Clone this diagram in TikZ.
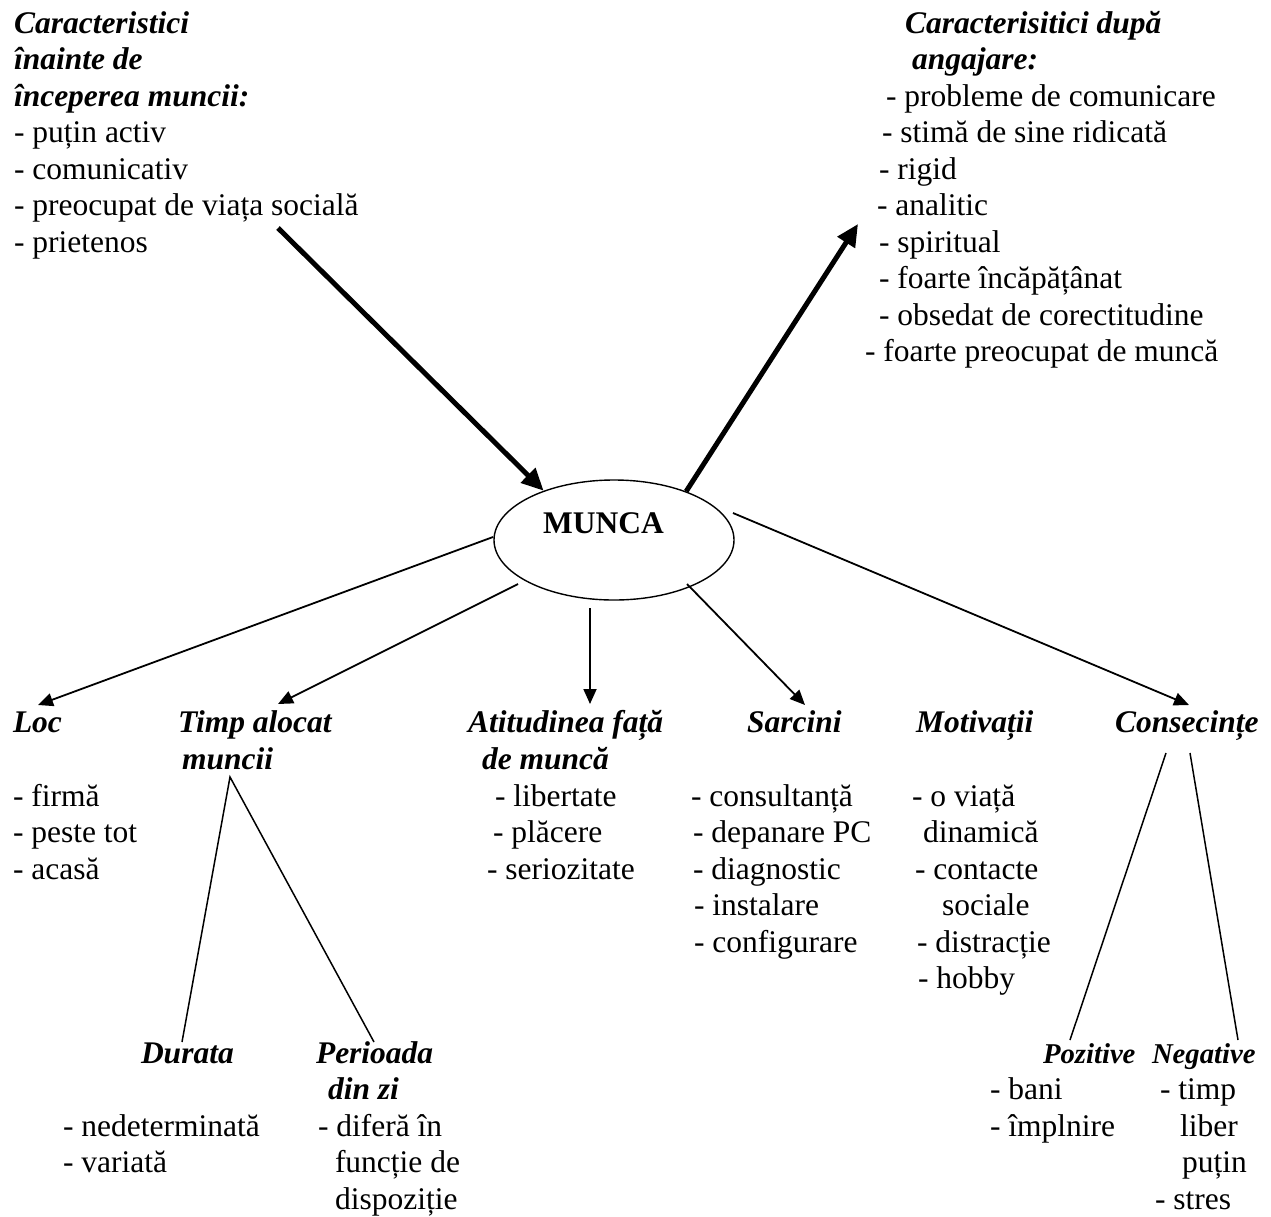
\documentclass[tikz,border=0pt]{standalone}
\usepackage{fontspec}
\setmainfont{Liberation Serif}
\usetikzlibrary{arrows.meta,shapes.geometric}
\begin{document}
\begin{tikzpicture}[x=1pt,y=-1pt,
  txt/.style={inner sep=0pt, outer sep=0pt, anchor=base west, font=\fontsize{31.5}{36.5}\selectfont},
  hd/.style={txt, font=\fontsize{31.5}{36.5}\selectfont\bfseries\itshape},
  hds/.style={txt, font=\fontsize{28.7}{34}\selectfont\bfseries\itshape},
  smallarrow/.style={line width=1.8pt, -{Triangle[length=15pt,width=13pt]}},
  bigarrow/.style={line width=5pt, -{Triangle[length=22pt,width=20pt]}},
  tline/.style={line width=1.5pt}]
\useasboundingbox (0,0) rectangle (1271,1216);

% top-left block
\node[hd] (a1) at (14,33) {Caracteristici};
\node[hd] (a2) at (14,69.5) {înainte de};
\node[hd] (a3) at (14,106) {începerea muncii:};
\node[txt] (a4) at (14,142.5) {- puțin activ};
\node[txt] (a5) at (14,179) {- comunicativ};
\node[txt] (a6) at (14,215.5) {- preocupat de viața socială};
\node[txt] (a7) at (14,252) {- prietenos};

% top-right block
\node[hd] (b1) at (905,33) {Caracterisitici după};
\node[hd] (b2) at (912,69.5) {angajare:};
\node[txt] (b3) at (886,106) {- probleme de comunicare};
\node[txt] (b4) at (882,142.5) {- stimă de sine ridicată};
\node[txt] (b5) at (879,179) {- rigid};
\node[txt] (b6) at (877,215.5) {- analitic};
\node[txt] (b7) at (879,252) {- spiritual};
\node[txt] (b8) at (879,288.5) {- foarte încăpățânat};
\node[txt] (b9) at (879,325) {- obsedat de corectitudine};
\node[txt] (b10) at (865,361.5) {- foarte preocupat de muncă};

% centre
\node[draw, ellipse, line width=1.4pt, minimum width=240pt, minimum height=120pt, inner sep=0pt] (munca) at (614,540) {};
\node[inner sep=0pt, anchor=base, font=\fontsize{31.5}{36.5}\selectfont\bfseries] (mlabel) at (603.5,533) {MUNCA};

% headings
\node[hd] (loc) at (13,732) {Loc};
\node[hd] (timp1) at (178,732) {Timp alocat};
\node[hd] (timp2) at (182,769) {muncii};
\node[hd] (atit1) at (468,732) {Atitudinea față};
\node[hd] (atit2) at (482,769) {de muncă};
\node[hd] (sarc) at (747,732) {Sarcini};
\node[hd] (motiv) at (916,732) {Motivații};
\node[hd] (cons) at (1115,732) {Consecințe};

% Loc list
\node[txt] (l1) at (13,806) {- firmă};
\node[txt] (l2) at (13,842.5) {- peste tot};
\node[txt] (l3) at (13,879) {- acasă};

% Atitudinea list
\node[txt] (t1) at (495,806) {- libertate};
\node[txt] (t2) at (493,842.5) {- plăcere};
\node[txt] (t3) at (487,879) {- seriozitate};

% Sarcini list
\node[txt] (s1) at (691,806) {- consultanță};
\node[txt] (s2) at (693,842.5) {- depanare PC};
\node[txt] (s3) at (693,879) {- diagnostic};
\node[txt] (s4) at (694,915.5) {- instalare};
\node[txt] (s5) at (694,952) {- configurare};

% Motivatii list
\node[txt] (m1) at (912,806) {- o viață};
\node[txt] (m2) at (923,842.5) {dinamică};
\node[txt] (m3) at (915,879) {- contacte};
\node[txt] (m4) at (942,915.5) {sociale};
\node[txt] (m5) at (917,952) {- distracție};
\node[txt] (m6) at (918,988.5) {- hobby};

% Durata / Perioada
\node[hd] (dur) at (141,1063) {Durata};
\node[hd] (per1) at (316,1063) {Perioada};
\node[hd] (per2) at (328,1099.5) {din zi};
\node[txt] (d1) at (63,1136) {- nedeterminată};
\node[txt] (d2) at (63,1172.5) {- variată};
\node[txt] (p1) at (318,1136) {- diferă în};
\node[txt] (p2) at (335,1172.5) {funcție de};
\node[txt] (p3) at (335,1209) {dispoziție};

% Pozitive / Negative
\node[hds] (poz) at (1043,1063) {Pozitive};
\node[hds] (neg) at (1152,1063) {Negative};
\node[txt] (z1) at (990,1099.5) {- bani};
\node[txt] (z2) at (990,1136) {- împlnire};
\node[txt] (n1) at (1160,1099.5) {- timp};
\node[txt] (n2) at (1180,1136) {liber};
\node[txt] (n3) at (1182,1172.5) {puțin};
\node[txt] (n4) at (1155,1209) {- stres};

% connector points
\coordinate (inStart) at (278,228);
\coordinate (outTip) at (858,224);
\coordinate (sLoc) at (493,537);
\coordinate (eLoc) at (38,705);
\coordinate (sTimp) at (518,584);
\coordinate (eTimp) at (278,704);
\coordinate (sAtit) at (590,608);
\coordinate (eAtit) at (590,704);
\coordinate (sSarc) at (687,584);
\coordinate (eSarc) at (805,705);
\coordinate (sCons) at (733,513);
\coordinate (eCons) at (1189,705);
\coordinate (tApex) at (230,777);
\coordinate (tLeft) at (182,1042);
\coordinate (tRight) at (374,1042);
\coordinate (cTopL) at (1166,753);
\coordinate (cBotL) at (1070,1040);
\coordinate (cTopR) at (1190,753);
\coordinate (cBotR) at (1238,1040);

% arrows
\draw[bigarrow] (inStart) -- (munca.145);
\draw[bigarrow] (munca.34) -- (outTip);
\draw[smallarrow] (sLoc) -- (eLoc);
\draw[smallarrow] (sTimp) -- (eTimp);
\draw[smallarrow] (sAtit) -- (eAtit);
\draw[smallarrow] (sSarc) -- (eSarc);
\draw[smallarrow] (sCons) -- (eCons);

% plain lines
\draw[tline] (tLeft) -- (tApex) -- (tRight);
\draw[tline] (cTopL) -- (cBotL);
\draw[tline] (cTopR) -- (cBotR);
\end{tikzpicture}
\end{document}
